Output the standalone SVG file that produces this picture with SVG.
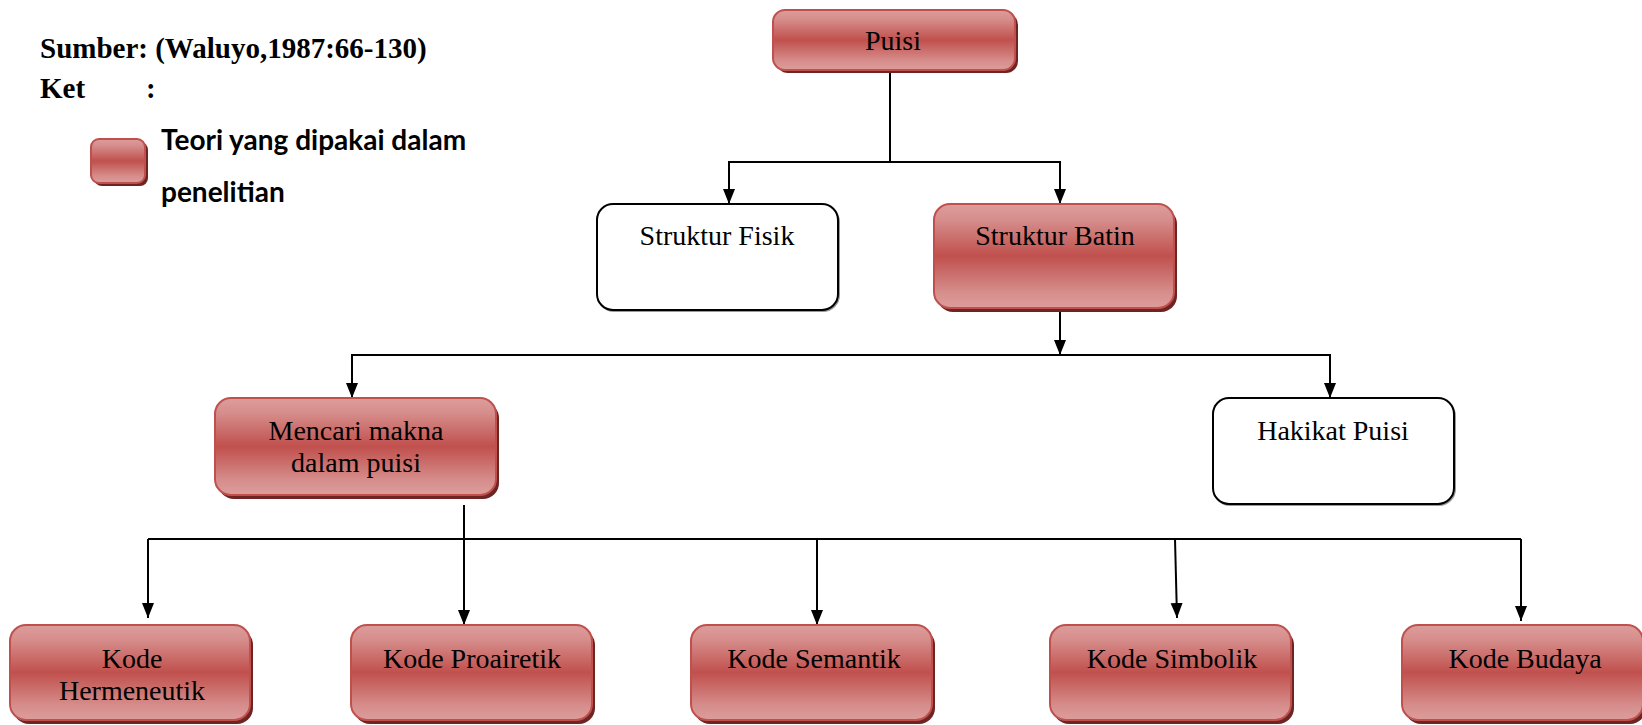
<svg xmlns="http://www.w3.org/2000/svg" width="1642" height="725" viewBox="0 0 1642 725">
<defs>
<linearGradient id="red" x1="0" y1="0" x2="0" y2="1">
<stop offset="0" stop-color="#dc9d9b"/>
<stop offset="0.15" stop-color="#d68e8c"/>
<stop offset="0.5" stop-color="#c0504d"/>
<stop offset="0.85" stop-color="#d68e8c"/>
<stop offset="1" stop-color="#dc9d9b"/>
</linearGradient>
<marker id="arr" markerUnits="userSpaceOnUse" markerWidth="16" markerHeight="14" refX="15" refY="7" orient="auto" viewBox="0 0 16 14">
<path d="M0,1 L15,7 L0,13 z" fill="#000"/>
</marker>
<style>
.sh{fill:#6e2422;}
.rb{fill:url(#red);stroke:#c0504d;stroke-width:2;}
.wb{fill:#fff;stroke:#000;stroke-width:2;}
.ws{fill:none;stroke:#999;stroke-width:2;}
.t{font-family:"Liberation Serif","Times New Roman",serif;font-size:28px;fill:#000;text-anchor:middle;}
.h{font-family:"Liberation Serif","Times New Roman",serif;font-size:29px;font-weight:bold;fill:#000;}
.lg{font-family:Lato,"Open Sans",sans-serif;font-size:28px;font-weight:bold;fill:#000;}
.c{fill:none;stroke:#000;stroke-width:2;}
.a{fill:none;stroke:#000;stroke-width:2;marker-end:url(#arr);}
</style>
</defs>

<g id="header">
<text class="h" x="40" y="58">Sumber: (Waluyo,1987:66-130)</text>
<text class="h" x="40" y="98">Ket</text>
<text class="h" x="146" y="98">:</text>
</g>

<g id="legend">
<rect class="sh" x="94" y="142" width="54" height="44" rx="8"/>
<rect class="rb" x="91" y="139" width="54" height="44" rx="8"/>
<text class="lg" x="161" y="150">Teori yang dipakai dalam</text>
<text class="lg" x="161" y="202">penelitian</text>
</g>

<g id="connectors">
<polyline class="c" points="890,72 890,162"/>
<polyline class="a" points="890,162 729,162 729,204"/>
<polyline class="a" points="890,162 1060,162 1060,204"/>
<polyline class="a" points="1060,312 1060,355"/>
<polyline class="a" points="1060,355 352,355 352,398"/>
<polyline class="a" points="1060,355 1330,355 1330,398"/>
<polyline class="c" points="148,539 1521,539"/>
<polyline class="a" points="148,539 148,618"/>
<polyline class="a" points="464,505 464,625"/>
<polyline class="a" points="817,539 817,625"/>
<polyline class="a" points="1175,539 1177,618"/>
<polyline class="a" points="1521,539 1521,621"/>
</g>

<g id="puisi">
<rect class="sh" x="776" y="13" width="242" height="60" rx="12"/>
<rect class="rb" x="773" y="10" width="242" height="60" rx="12"/>
<text class="t" x="893" y="50">Puisi</text>
</g>

<g id="struktur-fisik">
<rect class="ws" x="598" y="206" width="241" height="105" rx="16"/>
<rect class="wb" x="597" y="204" width="241" height="106" rx="16"/>
<text class="t" x="717" y="245">Struktur Fisik</text>
</g>

<g id="struktur-batin">
<rect class="sh" x="937" y="208" width="240" height="104" rx="16"/>
<rect class="rb" x="934" y="204" width="240" height="104" rx="16"/>
<text class="t" x="1055" y="245">Struktur Batin</text>
</g>

<g id="mencari-makna">
<rect class="sh" x="218" y="402" width="281" height="97" rx="16"/>
<rect class="rb" x="215" y="398" width="281" height="97" rx="16"/>
<text class="t" x="356" y="440">Mencari makna</text>
<text class="t" x="356" y="472">dalam puisi</text>
</g>

<g id="hakikat-puisi">
<rect class="ws" x="1214" y="400" width="241" height="105" rx="16"/>
<rect class="wb" x="1213" y="398" width="241" height="106" rx="16"/>
<text class="t" x="1333" y="440">Hakikat Puisi</text>
</g>

<g id="kode-hermeneutik">
<rect class="sh" x="13" y="629" width="240" height="95" rx="16"/>
<rect class="rb" x="10" y="625" width="240" height="95" rx="16"/>
<text class="t" x="132" y="668">Kode</text>
<text class="t" x="132" y="700">Hermeneutik</text>
</g>

<g id="kode-proairetik">
<rect class="sh" x="354" y="629" width="241" height="95" rx="16"/>
<rect class="rb" x="351" y="625" width="241" height="95" rx="16"/>
<text class="t" x="472" y="668">Kode Proairetik</text>
</g>

<g id="kode-semantik">
<rect class="sh" x="694" y="629" width="241" height="95" rx="16"/>
<rect class="rb" x="691" y="625" width="241" height="95" rx="16"/>
<text class="t" x="814" y="668">Kode Semantik</text>
</g>

<g id="kode-simbolik">
<rect class="sh" x="1053" y="629" width="241" height="95" rx="16"/>
<rect class="rb" x="1050" y="625" width="241" height="95" rx="16"/>
<text class="t" x="1172" y="668">Kode Simbolik</text>
</g>

<g id="kode-budaya">
<rect class="sh" x="1405" y="629" width="241" height="95" rx="16"/>
<rect class="rb" x="1402" y="625" width="241" height="95" rx="16"/>
<text class="t" x="1525" y="668">Kode Budaya</text>
</g>
</svg>
